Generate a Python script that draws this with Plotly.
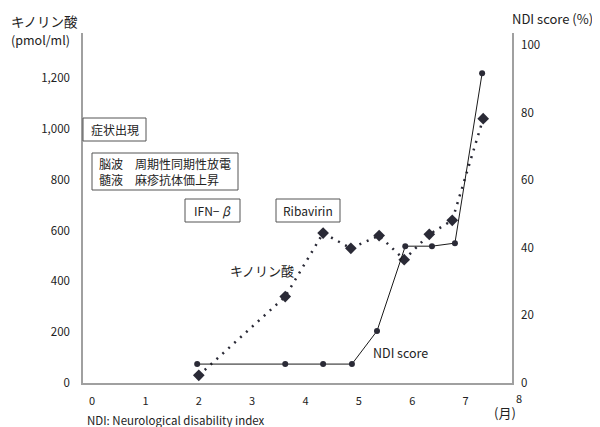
import plotly.graph_objects as go

# Data
kyn_x = [2.0, 3.62, 4.33, 4.85, 5.38, 5.85, 6.32, 6.75, 7.33]
kyn_y = [30, 340, 590, 530, 580, 485, 585, 640, 1040]
ndi_x = [1.97, 3.62, 4.33, 4.87, 5.34, 5.87, 6.37, 6.80, 7.31]
ndi_y = [5.6, 5.6, 5.6, 5.6, 15.4, 40.5, 40.5, 41.4, 91.7]
x_ticks = [0, 1, 2, 3, 4, 5, 6, 7]
left_ticks = [0, 200, 400, 600, 800, 1000, 1200]
left_labels = ["0", "200", "400", "600", "800", "1,000", "1,200"]
right_ticks = [0, 20, 40, 60, 80, 100]

FONT = "Noto Sans CJK JP, Noto Sans, sans-serif"
TXT = "#222222"
MK = "#2a2a36"

OFF = 8  # default page body margin
W, H = 600 - OFF, 427 - OFF
L, R, T, B = 83 - OFF, 512 - OFF, 33 - OFF, 383 - OFF

def px(xp):
    return (xp - OFF - L) / (R - L)

def py(yp):
    return (B - (yp - OFF)) / (B - T)

fig = go.Figure()
fig.add_trace(go.Scatter(
    x=kyn_x, y=kyn_y, mode="lines+markers",
    line=dict(color=MK, width=2.5, dash="2px,6px"),
    marker=dict(symbol="diamond", size=9, color=MK),
    yaxis="y", showlegend=False, hoverinfo="skip"))
fig.add_trace(go.Scatter(
    x=ndi_x, y=ndi_y, mode="lines+markers",
    line=dict(color="#1a1a1a", width=1),
    marker=dict(symbol="circle", size=6, color=MK),
    yaxis="y2", showlegend=False, hoverinfo="skip"))

ann = []
def text(x, y, s, size=12, xanchor="center", yanchor="middle", **kw):
    ann.append(dict(x=x, y=y, xref="paper", yref="paper", text=s, showarrow=False,
                    font=dict(family=FONT, size=size, color=TXT),
                    xanchor=xanchor, yanchor=yanchor, **kw))

def box(x0, y0, x1, y1, s, size=12, align="center"):
    ann.append(dict(x=px((x0 + x1) / 2), y=py((y0 + y1) / 2), xref="paper", yref="paper",
                    text=s, showarrow=False, align=align,
                    font=dict(family=FONT, size=size, color=TXT),
                    xanchor="center", yanchor="middle"))
    fig.add_shape(type="rect", xref="paper", yref="paper",
                  x0=px(x0), x1=px(x1), y0=py(y1), y1=py(y0),
                  line=dict(color="#555555", width=1), fillcolor="rgba(0,0,0,0)")

box(83, 118, 146, 141, "症状出現", 12)
box(92, 153, 238, 190, "脳波　周期性同期性放電<br>髄液　麻疹抗体価上昇", 12, align="left")
box(185, 199, 240, 222, "IFN− <i>β</i>", 12)
box(276, 199, 340, 222, "Ribavirin", 12)

text(px(10), py(10), "キノリン酸<br><span style='font-size:12.5px'>(pmol/ml)</span>", 13.5,
     xanchor="left", yanchor="top", align="left", borderpad=0)
text(px(594), py(19), "NDI score (%)", 13, xanchor="right", borderpad=0)
text(px(262), py(270), "キノリン酸", 13)
text(px(400), py(352), "NDI score", 12.5)
text(px(505), py(413), "(月)", 13, borderpad=0)
text(px(86), py(420), "NDI: Neurological disability index", 11.5, xanchor="left", borderpad=0)
text(px(519), py(398), "8", 11, borderpad=0)

fig.update_layout(
    width=W, height=H,
    margin=dict(l=L, r=W - R, t=T, b=H - B),
    paper_bgcolor="white", plot_bgcolor="white",
    font=dict(family=FONT, color=TXT, size=11),
    xaxis=dict(range=[-0.17, 7.87], tickvals=x_ticks, showgrid=False, zeroline=False,
               showline=True, linecolor="#a0a0a0", linewidth=1.5, ticks="",
               ticklabelstandoff=7, tickfont=dict(size=11)),
    yaxis=dict(range=[0, 1377], tickvals=left_ticks, ticktext=left_labels, showgrid=False,
               zeroline=False, showline=True, linecolor="#a0a0a0", linewidth=1.5, ticks="",
               ticklabelstandoff=9, tickfont=dict(size=11.5)),
    yaxis2=dict(range=[0, 103.6], tickvals=right_ticks, overlaying="y", side="right",
                showgrid=False, zeroline=False, showline=True, linecolor="#a0a0a0",
                linewidth=1.5, ticks="", ticklabelstandoff=5, tickfont=dict(size=11.5)),
    annotations=ann,
)

fig.write_html("out.html")
